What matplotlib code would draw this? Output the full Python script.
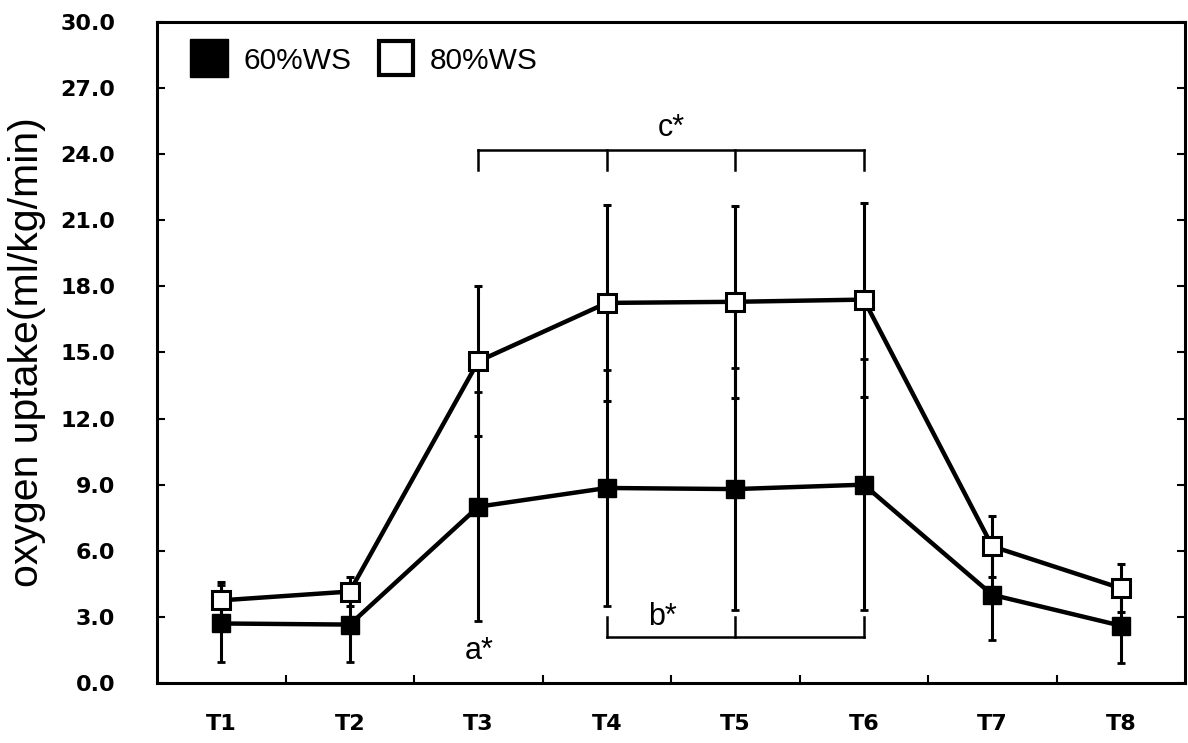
import matplotlib.pyplot as plt
from matplotlib.lines import Line2D
import numpy as np

plt.rcParams['font.family'] = ['Liberation Sans', 'DejaVu Sans']

labels = ['T1', 'T2', 'T3', 'T4', 'T5', 'T6', 'T7', 'T8']
ws60 = [2.7, 2.65, 8.0, 8.85, 8.8, 9.0, 4.0, 2.6]
ws60_sd = [1.75, 1.7, 5.2, 5.35, 5.5, 5.7, 2.05, 1.7]
ws80 = [3.75, 4.15, 14.6, 17.25, 17.3, 17.4, 6.2, 4.3]
ws80_sd = [0.85, 0.65, 3.4, 4.45, 4.35, 4.4, 1.4, 1.1]

x = np.arange(len(labels))

fig = plt.figure(figsize=(11.88, 7.43), dpi=100)
ax = fig.add_axes([0.1322, 0.0808, 0.8653, 0.8896])

ax.errorbar(x, ws60, yerr=ws60_sd, color='black', lw=3.2, marker='s', ms=13,
            mfc='black', mec='black', ecolor='black', elinewidth=2.2,
            capsize=3, capthick=2, zorder=3)
ax.errorbar(x, ws80, yerr=ws80_sd, color='black', lw=3.2, marker='s', ms=13,
            mfc='white', mec='black', mew=2.2, ecolor='black', elinewidth=2.2,
            capsize=3, capthick=2, zorder=4)

# significance brackets
ax.plot([2, 5], [24.2, 24.2], color='black', lw=1.8)
for xi in [2, 3, 4, 5]:
    ax.plot([xi, xi], [24.2, 23.3], color='black', lw=1.8)
ax.text(3.5, 24.5, 'c*', ha='center', va='bottom', fontsize=22)

ax.plot([3, 5], [2.1, 2.1], color='black', lw=1.8)
for xi in [3, 4, 5]:
    ax.plot([xi, xi], [2.1, 3.0], color='black', lw=1.8)
ax.text(3.43, 2.3, 'b*', ha='center', va='bottom', fontsize=22)

ax.text(2.01, 1.45, 'a*', ha='center', va='center', fontsize=22)

tick_font = dict(family='DejaVu Sans', size=16, weight='bold')

ax.set_xlim(-0.5, 7.5)
ax.set_ylim(0, 30)
ax.set_yticks(np.arange(0, 30.1, 3))
ax.set_yticklabels([f'{v:.1f}' for v in np.arange(0, 30.1, 3)], **tick_font)
ax.set_xticks(x)
ax.set_xticklabels(labels, **tick_font)
ax.set_xticks(np.arange(0.5, 7.5, 1), minor=True)
ax.tick_params(axis='x', which='major', length=0, pad=22)
ax.tick_params(axis='x', which='minor', direction='in', length=6, width=1.5)
ax.tick_params(axis='y', direction='in', length=6, width=1.5, pad=30,
               right=True)

for s in ax.spines.values():
    s.set_linewidth(2.2)

ax.set_ylabel('oxygen uptake(ml/kg/min)', fontsize=29.5, labelpad=10)

handles = [
    Line2D([], [], ls='none', marker='s', ms=27, mfc='black', mec='black'),
    Line2D([], [], ls='none', marker='s', ms=25, mfc='white', mec='black', mew=3),
]
ax.legend(handles, ['60%WS', '80%WS'], loc='upper left', frameon=False,
          ncol=2, fontsize=21.5, handlelength=1.3, handletextpad=0.5,
          columnspacing=0.85, bbox_to_anchor=(0.014, 0.99),
          borderaxespad=0.2)

fig.savefig('out.png', dpi=100)
